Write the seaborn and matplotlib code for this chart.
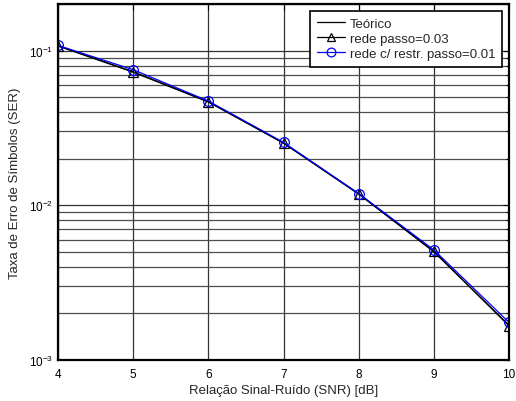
import matplotlib
matplotlib.use("Agg")
import matplotlib.pyplot as plt
import seaborn as sns
import numpy as np
from matplotlib.ticker import LogLocator, NullFormatter

snr_db = [4, 5, 6, 7, 8, 9, 10]
ser_teorico = [0.1070, 0.0725, 0.0465, 0.0252, 0.0118, 0.00500, 0.00168]
ser_rede = [0.1075, 0.0730, 0.0468, 0.0253, 0.0119, 0.00505, 0.00166]
ser_restr = [0.1080, 0.0752, 0.0472, 0.0255, 0.0119, 0.00515, 0.00175]
labels = ["Teórico", "rede passo=0.03", "rede c/ restr. passo=0.01"]
x_ticks = [4, 5, 6, 7, 8, 9, 10]

sns.set_style("white")
plt.rcParams["font.family"] = ["Liberation Sans", "DejaVu Sans"]
plt.rcParams["mathtext.fontset"] = "custom"
plt.rcParams["mathtext.rm"] = "Liberation Sans"
plt.rcParams["mathtext.it"] = "Liberation Sans:italic"

fig = plt.figure(figsize=(5.16, 4.02), dpi=100)
ax = fig.add_axes([58 / 516, 1 - 361 / 402, (509 - 58) / 516, (361 - 5) / 402])

sns.lineplot(x=snr_db, y=ser_teorico, ax=ax, color="black", linewidth=0.9,
             label=labels[0])
sns.lineplot(x=snr_db, y=ser_rede, ax=ax, color="black", linewidth=0.9,
             marker="^", markersize=7, markerfacecolor="none",
             markeredgecolor="black", markeredgewidth=0.9, label=labels[1])
sns.lineplot(x=snr_db, y=ser_restr, ax=ax, color="blue", linewidth=0.9,
             marker="o", markersize=7, markerfacecolor="none",
             markeredgecolor="blue", markeredgewidth=0.9, label=labels[2])

ax.set_yscale("log")
ax.set_xlim(4, 10)
ax.set_ylim(1e-3, 0.2)
ax.set_xticks(x_ticks)
ax.set_xticklabels([str(v) for v in x_ticks])
ax.yaxis.set_major_locator(LogLocator(base=10))
ax.yaxis.set_minor_locator(LogLocator(base=10, subs=np.arange(2, 10)))
ax.yaxis.set_minor_formatter(NullFormatter())

ax.grid(True, which="major", axis="both", color="0.2", linewidth=0.9, linestyle="-")
ax.grid(True, which="minor", axis="y", color="0.3", linewidth=0.9, linestyle="-")
ax.set_axisbelow(True)

for s in ax.spines.values():
    s.set_color("black")
    s.set_linewidth(1.6)

ax.tick_params(axis="both", which="both", direction="in", top=True, right=True,
               labelsize=8.5, colors="black", length=4, width=0.8)
ax.tick_params(axis="both", which="minor", length=2)
ax.tick_params(axis="x", pad=6)

ax.set_xlabel("Relação Sinal-Ruído (SNR) [dB]", fontsize=9.5, labelpad=3)
ax.set_ylabel("Taxa de Erro de Símbolos (SER)", fontsize=9.5, labelpad=6)

leg = ax.legend(loc="upper right", bbox_to_anchor=((502 - 58) / 451, (361 - 12) / 356),
                bbox_transform=ax.transAxes, fontsize=9.5, frameon=True,
                fancybox=False, framealpha=1, edgecolor="black",
                borderpad=0.5, labelspacing=0.22, handlelength=2.1,
                handletextpad=0.4, borderaxespad=0, markerscale=0.9)
leg.get_frame().set_linewidth(1.2)

fig.savefig("out.png", dpi=100)
